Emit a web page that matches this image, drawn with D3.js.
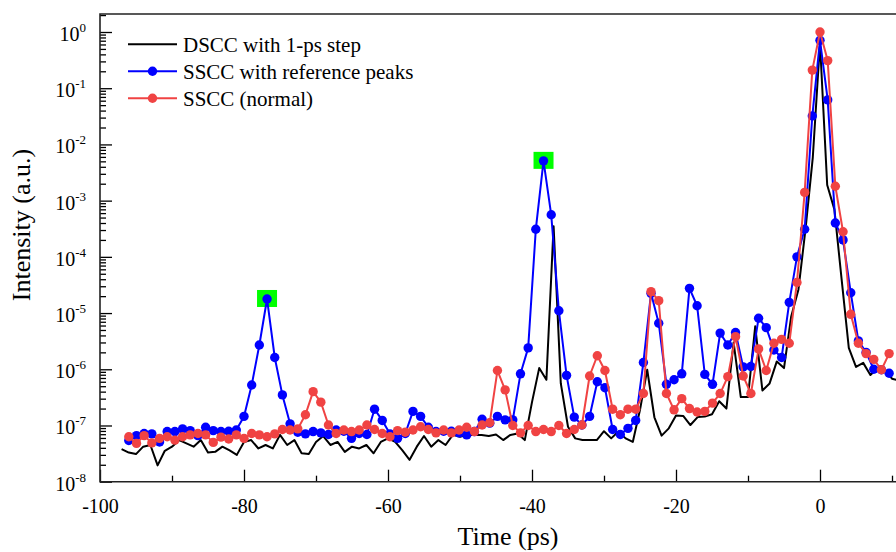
<!DOCTYPE html>
<html lang="en"><head>
<meta charset="utf-8">
<title>DSCC / SSCC intensity</title>
<script src="https://cdnjs.cloudflare.com/ajax/libs/d3/7.8.5/d3.min.js"></script>
<style>
  body { margin: 0; background: #fff; }
  svg { display: block; font-family: "Liberation Serif", "Times New Roman", serif; }
  .tick line { stroke: #000; stroke-width: 1.3; }
</style>
</head>
<body>
<svg id="chart" width="896" height="552"></svg>
<script>
// SSCC samples (both SSCC series share this time grid), ps
const ssccTimes = [-96.00,-94.93,-93.87,-92.80,-91.73,-90.67,-89.60,-88.53,-87.47,-86.40,
  -85.33,-84.27,-83.20,-82.13,-81.07,-80.00,-78.93,-77.87,-76.80,-75.73,
  -74.67,-73.60,-72.53,-71.47,-70.40,-69.33,-68.27,-67.20,-66.13,-65.07,
  -64.00,-62.93,-61.87,-60.80,-59.73,-58.67,-57.60,-56.53,-55.47,-54.40,
  -53.33,-52.27,-51.20,-50.13,-49.07,-48.00,-46.93,-45.87,-44.80,-43.73,
  -42.67,-41.60,-40.53,-39.47,-38.40,-37.33,-36.27,-35.20,-34.13,-33.07,
  -32.00,-30.93,-29.87,-28.80,-27.73,-26.67,-25.60,-24.53,-23.47,-22.40,
  -21.33,-20.27,-19.20,-18.13,-17.07,-16.00,-14.93,-13.87,-12.80,-11.73,
  -10.67,-9.60,-8.53,-7.47,-6.40,-5.33,-4.27,-3.20,-2.13,-1.07,
  0.00,1.07,2.13,3.20,4.27,5.33,6.40,7.47,8.53,9.60];

const ssccRef = [5.4e-8,6.6e-8,7.2e-8,7.1e-8,5.1e-8,7.8e-8,7.8e-8,8.7e-8,8.1e-8,6.6e-8,
  9.3e-8,8.1e-8,7.8e-8,7.9e-8,8.3e-8,1.45e-7,5.25e-7,2.7e-6,1.78e-5,1.62e-6,
  3.5e-7,1.07e-7,7.6e-8,7.1e-8,7.8e-8,7.4e-8,6.9e-8,8.3e-8,7.9e-8,5.9e-8,
  7.2e-8,6.9e-8,1.95e-7,1.23e-7,7.1e-8,5.9e-8,7.2e-8,1.78e-7,1.45e-7,9.3e-8,
  7.8e-8,7.9e-8,7.9e-8,7.4e-8,6.8e-8,7.8e-8,1.29e-7,1.1e-7,1.45e-7,1.26e-7,
  1.26e-7,8.3e-7,2.4e-6,3.1e-4,5.1e-3,5.6e-4,1.1e-5,7.8e-7,1.41e-7,1.02e-7,
  1.45e-7,6.0e-7,4.7e-7,8.5e-8,6.9e-8,8.9e-8,1.23e-7,1.32e-6,2.24e-5,6.6e-6,
  5.4e-7,6.5e-7,8.3e-7,2.75e-5,1.35e-5,8.1e-7,5.4e-7,4.4e-6,2.7e-6,4.5e-6,
  1.1e-6,1.12e-6,8.1e-6,5.5e-6,2.2e-6,1.62e-6,1.55e-5,1.0e-4,3.1e-4,3.2e-2,
  0.71,6.2e-2,4.0e-4,2.0e-4,2.3e-5,3.2e-6,2.0e-6,1.0e-6,9.8e-7,8.5e-7];

const ssccNormal = [6.3e-8,4.8e-8,6.6e-8,4.9e-8,5.9e-8,6.3e-8,5.5e-8,6.3e-8,6.8e-8,7.2e-8,
  6.8e-8,5.0e-8,6.2e-8,5.75e-8,6.8e-8,5.9e-8,7.2e-8,6.8e-8,6.3e-8,7.1e-8,
  8.5e-8,8.3e-8,8.7e-8,1.55e-7,4.0e-7,2.6e-7,1.02e-7,7.2e-8,8.3e-8,7.8e-8,
  8.3e-8,1.02e-7,8.5e-8,7.2e-8,6.3e-8,8.1e-8,7.6e-8,8.3e-8,9.5e-8,8.5e-8,
  7.4e-8,8.3e-8,7.4e-8,8.3e-8,9.3e-8,7.8e-8,1.02e-7,1.12e-7,9.5e-7,4.3e-7,
  1.0e-7,7.4e-8,1.0e-7,7.8e-8,8.5e-8,7.8e-8,1.0e-7,7.2e-8,8.5e-8,1.02e-7,
  7.6e-7,1.74e-6,9.5e-7,1.95e-7,1.55e-7,1.95e-7,1.95e-7,3.7e-7,2.4e-5,1.66e-5,
  3.7e-7,1.9e-7,3.0e-7,2.0e-7,1.74e-7,1.78e-7,2.5e-7,3.7e-7,7.4e-7,3.8e-6,
  7.6e-7,3.7e-7,2.3e-6,9.5e-7,2.9e-6,3.4e-6,2.9e-6,3.5e-5,1.4e-3,0.21,
  1.0,0.31,1.8e-3,2.8e-4,9.5e-6,2.9e-6,1.9e-6,1.5e-6,9.8e-7,1.9e-6];

// DSCC, 1-ps step from -97 ps to 11 ps
const dsccTimes = [-97,-96,-95,-94,-93,-92,-91,-90,-89,-88,-87,-86,-85,-84,-83,-82,-81,-80,
  -79,-78,-77,-76,-75,-74,-73,-72,-71,-70,-69,-68,-67,-66,-65,-64,-63,-62,-61,-60,
  -59,-58,-57,-56,-55,-54,-53,-52,-51,-50,-49,-48,-47,-46,-45,-44,-43,-42,-41,-40,
  -39,-38,-37,-36,-35,-34,-33,-32,-31,-30,-29,-28,-27,-26,-25,-24,-23,-22,-21,-20,
  -19,-18,-17,-16,-15,-14,-13,-12,-11,-10,-9,-8,-7,-6,-5,-4,-3,-2,-1,0,
  1,2,3,4,5,6,7,8,9,10,11];

const dscc = [3.8e-8,3.3e-8,3.1e-8,4.2e-8,4.5e-8,1.95e-8,3.55e-8,4.2e-8,5.5e-8,4.8e-8,
  4.2e-8,5.5e-8,3.3e-8,3.4e-8,4.2e-8,3.6e-8,3.0e-8,5.1e-8,5.5e-8,3.9e-8,
  4.5e-8,3.9e-8,6.8e-8,4.5e-8,5.5e-8,3.2e-8,3.1e-8,5.1e-8,6.5e-8,4.5e-8,
  5.1e-8,3.4e-8,4.2e-8,3.9e-8,4.5e-8,3.2e-8,5.1e-8,5.9e-8,5.1e-8,3.6e-8,
  2.45e-8,4.2e-8,6.5e-8,4.2e-8,5.5e-8,4.5e-8,6.8e-8,6.3e-8,6.8e-8,6.8e-8,
  6.8e-8,6.5e-8,6.9e-8,5.5e-8,6.8e-8,7.2e-8,5.5e-8,2.6e-7,1.05e-6,6.5e-7,
  3.5e-4,5.6e-7,9.5e-8,5.9e-8,5.5e-8,5.5e-8,5.5e-8,7.9e-8,5.9e-8,7.8e-8,
  5.9e-8,5.1e-8,1.9e-7,9.8e-7,1.4e-7,6.6e-8,8.9e-8,1.5e-7,1.48e-7,1.02e-7,
  1.41e-7,1.45e-7,1.58e-7,2.7e-7,2.0e-7,3.0e-6,3.2e-7,3.2e-7,5.8e-6,4.2e-7,
  5.6e-7,1.38e-6,1.05e-6,8.7e-6,2.6e-5,3.2e-4,5.9e-3,0.63,1.9e-3,7.0e-4,
  4.0e-5,2.4e-6,1.1e-6,1.3e-6,7.9e-7,1.05e-6,1.0e-6,6.8e-7,6.3e-7];

// highlighted reference peaks (time, intensity)
const refPeaks = [[-76.80, 1.78e-5], [-38.40, 5.1e-3]];

const xMajor = [-100, -80, -60, -40, -20, 0];
const xMinor = [-90, -70, -50, -30, -10, 10];
const yExponents = [0, -1, -2, -3, -4, -5, -6, -7, -8];

const legendItems = [
  { label: "DSCC with 1-ps step", color: "#000", dot: false },
  { label: "SSCC with reference peaks", color: "#0000ff", dot: true },
  { label: "SSCC (normal)", color: "#f04343", dot: true }
];

const svg = d3.select("#chart");
const plotL = 100, plotT = 14, plotB = 481.7, plotR = 920;

const x = d3.scaleLinear().domain([-100, 0]).range([plotL, 820]);
const y = d3.scaleLog().domain([1e-8, 1]).range([plotB, 32]);

// axes ticks (inward)
const yMinor = [];
for (let e = -8; e <= 0; e++) for (let m = 2; m <= 9; m++) {
  const v = m * Math.pow(10, e);
  if (y(v) > plotT + 1) yMinor.push(v);
}

svg.append("g").attr("transform", `translate(0,${plotB})`)
  .call(d3.axisBottom(x).tickValues(xMajor).tickSize(-12).tickPadding(17).tickFormat(d => String(d)))
  .call(g => g.select(".domain").remove())
  .call(g => g.selectAll("text").attr("font-size", 20).attr("font-family", "Liberation Serif").attr("fill", "#000"));
svg.append("g").attr("transform", `translate(0,${plotB})`)
  .call(d3.axisBottom(x).tickValues(xMinor).tickSize(-6).tickFormat(""))
  .call(g => g.select(".domain").remove());

svg.append("g").attr("transform", `translate(${plotL},0)`)
  .call(d3.axisLeft(y).tickValues(yExponents.map(e => Math.pow(10, e))).tickSize(-12).tickFormat(""))
  .call(g => g.select(".domain").remove());
svg.append("g").attr("transform", `translate(${plotL},0)`)
  .call(d3.axisLeft(y).tickValues(yMinor).tickSize(-6).tickFormat(""))
  .call(g => g.select(".domain").remove());

// y tick labels 10^n
const yl = svg.append("g").selectAll("text").data(yExponents).join("text")
  .attr("x", 86).attr("y", d => y(Math.pow(10, d)) + 9)
  .attr("text-anchor", "end").attr("font-size", 20);
yl.append("tspan").text("10");
yl.append("tspan").attr("font-size", 13).attr("dy", -9).text(d => String(d));

// frame
svg.append("path")
  .attr("d", `M${plotR},${plotT}H${plotL}V${plotB}H${plotR}`)
  .attr("fill", "none").attr("stroke", "#222").attr("stroke-width", 1.6);

// reference peak markers
svg.append("g").selectAll("rect").data(refPeaks).join("rect")
  .attr("x", d => x(d[0]) - 10).attr("y", d => y(d[1]) - 9)
  .attr("width", 20).attr("height", 17).attr("fill", "#00ff00");

const line = d3.line().x(d => x(d[0])).y(d => y(d[1]));
const dsccPts = d3.zip(dsccTimes, dscc);
const refPts = d3.zip(ssccTimes, ssccRef);
const normPts = d3.zip(ssccTimes, ssccNormal);

svg.append("path").datum(dsccPts).attr("d", line)
  .attr("fill", "none").attr("stroke", "#000").attr("stroke-width", 2).attr("stroke-linejoin", "round");

function series(pts, color) {
  svg.append("path").datum(pts).attr("d", line)
    .attr("fill", "none").attr("stroke", color).attr("stroke-width", 2).attr("stroke-linejoin", "round");
  svg.append("g").selectAll("circle").data(pts).join("circle")
    .attr("cx", d => x(d[0])).attr("cy", d => y(d[1])).attr("r", 4.7).attr("fill", color);
}
series(refPts, legendItems[1].color);
series(normPts, legendItems[2].color);

// legend
const lg = svg.append("g").selectAll("g").data(legendItems).join("g")
  .attr("transform", (d, i) => `translate(0,${44.3 + i * 27})`);
lg.append("line").attr("x1", 128).attr("x2", 177).attr("stroke", d => d.color).attr("stroke-width", 2);
lg.filter(d => d.dot).append("circle").attr("cx", 152.5).attr("r", 4.7).attr("fill", d => d.color);
lg.append("text").attr("x", 183).attr("y", 8).attr("font-size", 21).text(d => d.label);

// axis titles
svg.append("text").attr("x", 508).attr("y", 545).attr("text-anchor", "middle")
  .attr("font-size", 26).text("Time (ps)");
svg.append("text").attr("transform", "translate(30,225) rotate(-90)").attr("text-anchor", "middle")
  .attr("font-size", 26).text("Intensity (a.u.)");
</script>
</body>
</html>
